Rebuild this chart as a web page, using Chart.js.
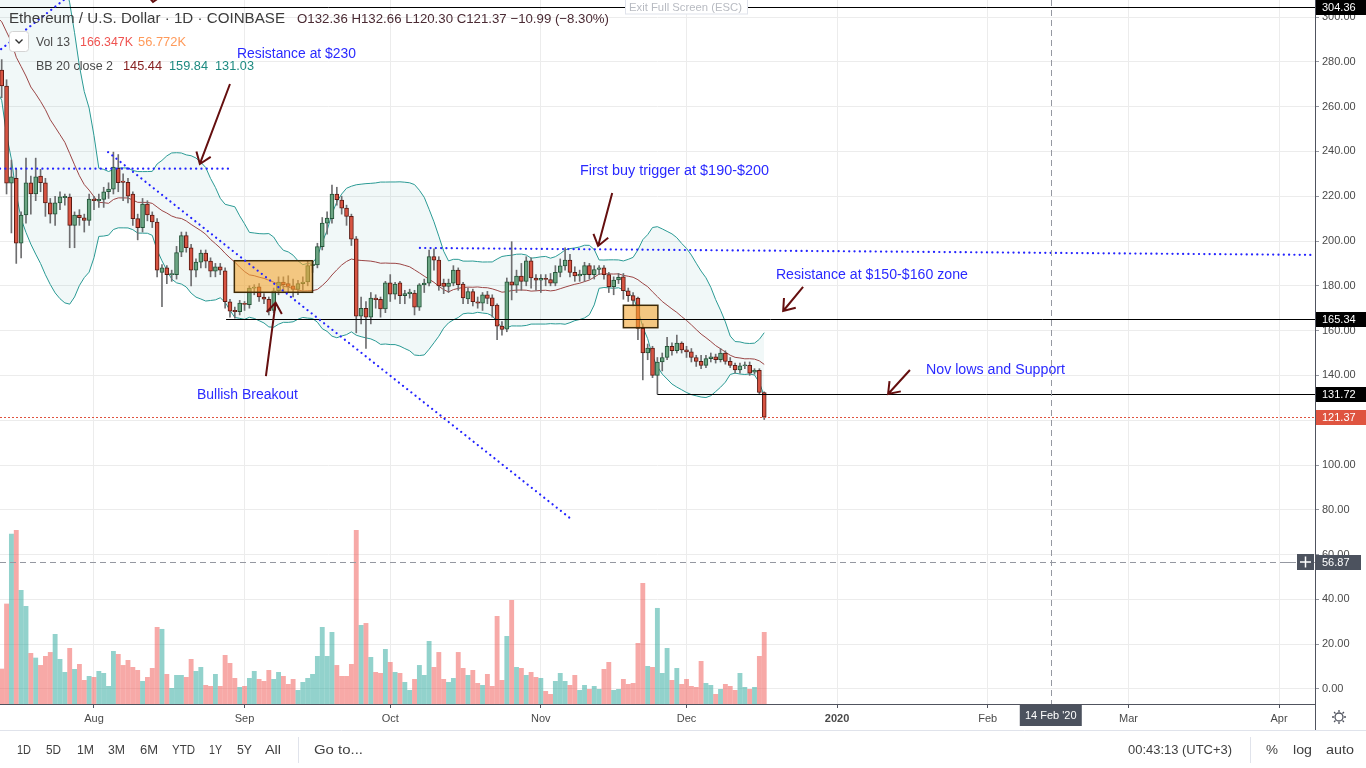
<!DOCTYPE html>
<html>
<head>
<meta charset="utf-8">
<title>Ethereum / U.S. Dollar 1D</title>
<script src="https://cdn.jsdelivr.net/npm/chart.js@4.4.1/dist/chart.umd.min.js"></script>
<style>
  html, body { margin: 0; padding: 0; background: #fff; }
  canvas { display: block; }
</style>
</head>
<body>
<canvas id="chart" width="1366" height="768"></canvas>
<script>
// x values are day numbers counted from 2019-07-01 (day 0)
const firstDay = 12; // 2019-07-13

// daily candles, 2019-07-13 .. 2019-12-17
const opens = [
  276.3, 269.2, 225.8, 228.0, 199.0, 211.6, 226.0, 221.0, 229.0, 226.0,
  217.0, 212.0, 217.0, 219.4, 219.6, 207.0, 211.6, 210.4, 209.2, 218.7,
  218.0, 218.6, 222.0, 223.2, 232.5, 226.8, 226.2, 221.0, 210.0, 206.0,
  216.5, 211.6, 208.5, 186.0, 188.0, 185.0, 185.0, 195.0, 202.4, 197.0,
  187.0, 190.6, 194.6, 191.0, 186.5, 188.5, 186.7, 172.9, 169.0, 168.5,
  172.0, 171.6, 179.0, 179.5, 175.0, 174.0, 169.0, 177.8, 181.7, 181.0,
  180.0, 178.4, 181.0, 181.7, 189.0, 189.3, 197.5, 208.0, 210.0, 221.0,
  218.3, 214.7, 211.0, 201.0, 166.5, 170.0, 166.0, 174.5, 174.0, 169.7,
  181.3, 176.3, 181.3, 175.6, 176.5, 176.8, 170.5, 180.4, 181.2, 193.0,
  191.5, 181.2, 179.7, 181.2, 187.0, 180.8, 174.1, 177.4, 172.9, 172.3,
  176.0, 174.6, 171.4, 162.0, 160.6, 181.8, 180.3, 184.4, 182.0, 191.2,
  183.5, 182.5, 183.3, 182.8, 181.2, 186.0, 188.9, 191.5, 186.0, 184.4,
  185.0, 189.0, 185.0, 187.3, 188.0, 185.0, 179.6, 182.6, 184.0, 177.8,
  175.6, 174.5, 161.0, 150.0, 152.2, 140.0, 146.0, 148.0, 153.0, 151.0,
  154.4, 151.4, 150.5, 148.0, 146.3, 144.5, 147.5, 148.3, 147.0, 150.0,
  146.3, 144.5, 142.5, 144.3, 144.5, 141.5, 142.3, 132.36
];
const highs = [
  281.0, 272.0, 236.2, 232.0, 213.0, 237.0, 229.0, 237.0, 232.0, 228.0,
  219.0, 220.0, 222.0, 221.0, 221.0, 213.0, 214.0, 212.0, 221.0, 220.0,
  221.0, 224.0, 226.0, 239.7, 238.6, 230.0, 228.0, 222.0, 212.0, 219.0,
  218.0, 213.0, 210.0, 189.5, 189.0, 187.0, 197.6, 204.0, 204.0, 198.5,
  192.0, 196.0, 196.0, 192.5, 190.0, 190.0, 188.0, 174.0, 170.5, 173.5,
  173.0, 180.0, 180.5, 181.0, 176.5, 175.0, 179.0, 184.0, 184.0, 184.5,
  183.0, 182.5, 184.0, 191.0, 191.0, 199.0, 210.5, 213.0, 225.0, 224.0,
  220.0, 216.0, 212.0, 202.0, 175.0, 173.0, 177.0, 176.0, 175.0, 182.0,
  185.0, 181.5, 182.0, 178.0, 178.5, 178.0, 181.0, 183.0, 196.0, 196.5,
  193.0, 183.0, 183.0, 189.0, 188.0, 181.5, 179.0, 178.5, 175.0, 177.0,
  177.5, 176.0, 172.0, 164.0, 183.5, 199.7, 187.0, 190.0, 193.0, 192.5,
  185.0, 185.0, 185.0, 185.5, 189.0, 192.0, 197.0, 194.0, 188.5, 187.0,
  190.5, 190.0, 189.0, 189.0, 189.0, 186.0, 184.0, 185.5, 185.5, 179.0,
  177.0, 175.0, 163.0, 154.0, 153.0, 148.0, 150.0, 157.0, 154.5, 158.0,
  155.0, 153.0, 152.0, 149.0, 149.0, 149.0, 150.0, 149.5, 152.0, 151.0,
  148.0, 145.5, 145.5, 146.0, 146.0, 143.0, 143.0, 132.66
];
const lows = [
  264.0, 221.0, 203.6, 190.0, 192.4, 208.0, 212.0, 218.0, 222.0, 211.0,
  208.0, 207.0, 214.0, 216.0, 197.0, 197.0, 207.0, 204.0, 207.0, 214.0,
  215.0, 215.0, 219.0, 221.0, 222.0, 218.0, 217.0, 207.0, 200.5, 204.0,
  209.0, 206.0, 184.0, 170.7, 181.0, 182.0, 183.0, 193.0, 195.0, 180.0,
  184.0, 188.0, 188.0, 184.0, 184.0, 185.0, 170.0, 166.0, 165.5, 167.0,
  169.0, 170.0, 176.0, 173.0, 172.0, 167.0, 168.0, 176.0, 177.0, 177.0,
  175.0, 176.0, 178.0, 180.0, 186.0, 188.0, 196.0, 203.0, 208.0, 216.0,
  212.0, 207.0, 198.0, 159.0, 163.0, 152.0, 163.0, 170.0, 166.0, 168.0,
  173.0, 174.0, 172.0, 172.0, 174.5, 167.0, 169.0, 177.0, 180.0, 187.0,
  178.0, 176.5, 177.0, 180.0, 178.0, 172.0, 172.0, 171.0, 170.0, 169.0,
  172.0, 166.0, 156.0, 158.0, 159.5, 173.7, 177.0, 178.0, 180.0, 179.0,
  178.0, 177.0, 180.0, 180.0, 180.0, 184.0, 187.0, 184.0, 182.0, 182.0,
  182.0, 183.0, 183.0, 185.0, 183.0, 177.0, 176.0, 181.0, 174.0, 173.0,
  171.0, 156.0, 138.0, 147.0, 139.0, 131.7, 142.0, 147.0, 149.0, 150.0,
  150.0, 148.0, 146.0, 144.0, 143.0, 143.5, 146.0, 145.5, 146.0, 145.0,
  143.5, 141.0, 141.0, 143.0, 140.0, 140.5, 131.5, 120.30
];
const closes = [
  269.2, 225.8, 228.7, 199.0, 211.6, 226.0, 221.0, 228.6, 226.0, 217.0,
  212.0, 217.0, 219.7, 219.9, 207.0, 211.6, 210.4, 209.2, 218.7, 218.0,
  218.6, 222.0, 223.2, 233.0, 226.0, 226.2, 220.0, 210.0, 206.0, 216.5,
  211.6, 208.5, 187.0, 188.0, 185.0, 185.3, 194.8, 202.4, 197.0, 187.0,
  190.6, 194.6, 191.0, 186.5, 188.5, 187.0, 172.9, 168.7, 168.5, 172.3,
  171.7, 179.0, 179.4, 175.0, 174.0, 168.8, 177.8, 181.7, 180.5, 179.7,
  178.4, 181.0, 181.7, 189.0, 189.7, 197.5, 208.0, 210.2, 221.0, 218.5,
  214.7, 211.0, 200.8, 166.5, 170.0, 166.0, 174.5, 173.8, 169.7, 181.3,
  176.3, 180.8, 175.6, 176.5, 177.2, 170.5, 180.4, 181.2, 193.0, 191.5,
  180.0, 179.7, 181.2, 187.0, 180.5, 174.6, 177.4, 172.9, 172.2, 176.0,
  174.4, 171.0, 162.0, 160.5, 181.8, 180.3, 184.4, 182.0, 191.2, 183.5,
  182.5, 183.3, 182.8, 181.2, 186.0, 188.9, 191.5, 186.0, 184.4, 185.2,
  189.0, 185.0, 187.3, 188.0, 185.0, 179.6, 182.6, 183.8, 177.8, 175.6,
  173.5, 161.0, 150.0, 152.2, 140.0, 146.0, 148.0, 153.0, 151.0, 154.4,
  151.4, 150.5, 148.0, 146.3, 144.5, 147.5, 148.3, 147.0, 150.0, 146.3,
  144.5, 142.5, 144.3, 144.6, 141.0, 142.3, 132.36, 121.37
];
// volume in thousands of ETH
const volumes = [
  81.6, 231.8, 393.5, 402.0, 263.3, 226.4, 117.8, 107.0, 90.0, 110.9,
  120.0, 161.7, 104.0, 73.9, 129.4, 80.9, 92.4, 55.4, 64.7, 62.4,
  76.2, 71.6, 41.6, 122.4, 115.5, 90.0, 101.6, 85.5, 78.5, 53.1,
  62.4, 83.2, 177.9, 173.3, 69.3, 37.0, 67.0, 67.0, 62.4, 104.0,
  76.2, 85.5, 43.9, 41.6, 69.3, 41.6, 113.2, 94.7, 60.0, 39.3,
  41.6, 60.0, 76.2, 57.8, 53.1, 78.5, 57.8, 73.9, 64.7, 46.2,
  57.8, 32.3, 50.8, 60.0, 69.3, 110.9, 177.9, 110.9, 166.3, 90.0,
  64.7, 64.7, 92.4, 402.0, 182.5, 187.0, 108.6, 73.9, 71.6, 127.0,
  97.0, 73.9, 71.6, 50.8, 32.3, 57.8, 90.0, 67.0, 145.5, 85.5,
  120.0, 57.8, 50.8, 60.0, 120.0, 83.2, 67.0, 78.5, 48.5, 43.9,
  69.3, 41.6, 203.3, 55.4, 157.0, 240.2, 85.5, 83.2, 67.0, 73.9,
  62.4, 60.0, 30.0, 23.1, 53.1, 71.6, 53.1, 43.9, 67.0, 32.3,
  43.9, 34.7, 41.6, 34.7, 80.9, 97.0, 32.3, 34.7, 57.8, 46.2,
  48.5, 140.9, 279.5, 87.8, 85.5, 221.8, 71.6, 129.4, 55.4, 83.2,
  46.2, 57.8, 41.6, 39.3, 99.3, 48.5, 43.9, 23.1, 34.7, 46.2,
  41.6, 32.3, 71.6, 39.3, 34.7, 39.3, 110.9, 166.3
];
// closes 2019-06-23 .. 2019-07-12, only used to warm up the Bollinger bands
const warmupCloses = [309, 317, 318, 336, 294, 311, 319, 290, 293, 291,
                      302, 283, 287, 288, 307, 313, 308, 288, 268, 276];

const priceTicks = [0, 20, 40, 60, 80, 100, 120, 140, 160, 180, 200, 220, 240, 260, 280, 300];
const monthDays = [31, 62, 92, 123, 153, 184, 215, 244, 275];
const monthLabels = ['Aug', 'Sep', 'Oct', 'Nov', 'Dec', '2020', 'Feb', 'Mar', 'Apr'];

// ---- drawings (day, price) ----
const dottedLines = [
  [5, 274, 30, 316.5],
  [11.65, 232.3, 59.2, 232.3],
  [33.9, 239.7, 129.0, 76.3],
  [98.1, 196.9, 281.8, 193.8]
];
const solidLines = [
  [11.65, 304.36, 282.4, 304.36],
  [58.2, 165.34, 282.4, 165.34],
  [147.0, 131.72, 282.4, 131.72]
];
const boxes = [
  [59.9, 191.2, 76.0, 177.1],
  [140.0, 171.3, 147.1, 161.3]
];
const arrows = [
  [59.0, 270.1, 52.8, 234.4],
  [66.4, 139.7, 68.4, 172.5],
  [137.7, 221.4, 134.8, 197.8],
  [177.0, 179.5, 172.9, 168.75],
  [199.0, 142.4, 194.5, 131.7]
];
const notes = [
  ['Resistance at $230', 60.45, 281.7, 119],
  ['First buy trigger at $190-$200', 131.07, 229.5, 189],
  ['Resistance at $150-$160 zone', 171.4, 183.0, 192],
  ['Nov lows and Support', 202.3, 140.6, 139],
  ['Bullish Breakout', 52.2, 129.5, 101]
];
const crossDay = 228;   // 14 Feb '20
const crossPrice = 56.87;
const lastPrice = 121.37;

const FONT = '"Liberation Sans", Arial, sans-serif';
const UP = '#6ba583', DOWN = '#d75442';
const UP_BORDER = '#225437', DOWN_BORDER = '#5b1a13';

// build datasets
const days = closes.map((c, i) => firstDay + i);
const isUp = closes.map((c, i) => c >= opens[i]);

const bodyData = days.map((d, i) => ({ x: d, y: [opens[i], closes[i]] }));
const wickData = days.map((d, i) => ({ x: d, y: [lows[i], highs[i]] }));
const volData = days.map((d, i) => ({ x: d, y: volumes[i] }));

// Bollinger bands 20, 2 on close
const allCloses = warmupCloses.concat(closes);
const bbMid = [], bbUp = [], bbLow = [];
for (let i = 19; i < allCloses.length; i++) {
  const win = allCloses.slice(i - 19, i + 1);
  const m = win.reduce((a, b) => a + b, 0) / 20;
  const sd = Math.sqrt(win.reduce((a, b) => a + (b - m) * (b - m), 0) / 20);
  const d = firstDay - warmupCloses.length + i;
  bbMid.push({ x: d, y: m });
  bbUp.push({ x: d, y: m + 2 * sd });
  bbLow.push({ x: d, y: m - 2 * sd });
}

// text squeezed/stretched to a measured width
function fitText(ctx, str, x, y, w, font, color) {
  ctx.font = font;
  ctx.fillStyle = color;
  const m = ctx.measureText(str).width;
  ctx.save();
  ctx.translate(x, y);
  ctx.scale(w / m, 1);
  ctx.fillText(str, 0, 0);
  ctx.restore();
}

function drawArrow(ctx, x1, y1, x2, y2) {
  const a = Math.atan2(y2 - y1, x2 - x1), len = 13, spread = Math.PI / 5;
  ctx.beginPath();
  ctx.moveTo(x1, y1);
  ctx.lineTo(x2, y2);
  ctx.moveTo(x2 - len * Math.cos(a - spread), y2 - len * Math.sin(a - spread));
  ctx.lineTo(x2, y2);
  ctx.lineTo(x2 - len * Math.cos(a + spread), y2 - len * Math.sin(a + spread));
  ctx.stroke();
}

function priceTag(ctx, y, text, bg, right) {
  ctx.fillStyle = bg;
  ctx.fillRect(1316, Math.round(y) - 7, right - 1316, 15);
  ctx.fillStyle = '#fff';
  ctx.font = '11px ' + FONT;
  ctx.textBaseline = 'middle';
  ctx.fillText(text, 1322, Math.round(y) + 0.5);
  ctx.textBaseline = 'alphabetic';
}

const overlay = {
  id: 'overlay',
  afterDatasetsDraw(chart) {
    const { ctx, chartArea: a, scales: { x, y } } = chart;
    const px = d => x.getPixelForValue(d);
    const py = p => y.getPixelForValue(p);
    ctx.save();
    ctx.beginPath();
    ctx.rect(a.left, a.top, a.right - a.left, a.bottom - a.top);
    ctx.clip();

    // orange boxes
    boxes.forEach(([d1, p1, d2, p2]) => {
      ctx.fillStyle = 'rgba(245, 166, 50, 0.6)';
      ctx.fillRect(px(d1), py(p1), px(d2) - px(d1), py(p2) - py(p1));
      ctx.strokeStyle = '#3d2a08';
      ctx.lineWidth = 1.5;
      ctx.strokeRect(px(d1), py(p1), px(d2) - px(d1), py(p2) - py(p1));
    });

    // horizontal lines
    ctx.strokeStyle = '#000';
    ctx.lineWidth = 1;
    solidLines.forEach(([d1, p1, d2, p2]) => {
      ctx.beginPath();
      ctx.moveTo(px(d1), Math.round(py(p1)) + 0.5);
      ctx.lineTo(px(d2), Math.round(py(p2)) + 0.5);
      ctx.stroke();
    });

    // last price line
    ctx.strokeStyle = '#e0533f';
    ctx.setLineDash([2, 2]);
    ctx.beginPath();
    ctx.moveTo(a.left, Math.round(py(lastPrice)) + 0.5);
    ctx.lineTo(a.right, Math.round(py(lastPrice)) + 0.5);
    ctx.stroke();

    // blue dotted trend lines
    ctx.strokeStyle = '#2424ff';
    ctx.lineWidth = 2.2;
    ctx.lineCap = 'round';
    ctx.setLineDash([0.1, 5.2]);
    dottedLines.forEach(([d1, p1, d2, p2]) => {
      ctx.beginPath();
      ctx.moveTo(px(d1), py(p1));
      ctx.lineTo(px(d2), py(p2));
      ctx.stroke();
    });
    ctx.setLineDash([]);
    ctx.lineCap = 'butt';

    // arrows
    ctx.strokeStyle = '#650f0f';
    ctx.lineWidth = 2;
    arrows.forEach(([d1, p1, d2, p2]) => drawArrow(ctx, px(d1), py(p1), px(d2), py(p2)));
    // head of an arrow cut off by the top edge
    ctx.beginPath();
    ctx.moveTo(148, -4); ctx.lineTo(153, 2); ctx.lineTo(160, -3);
    ctx.stroke();

    // notes
    notes.forEach(([t, d, p, w]) => fitText(ctx, t, px(d), py(p), w, '14px ' + FONT, '#2a2aff'));

    // crosshair
    ctx.strokeStyle = '#9598a1';
    ctx.lineWidth = 1;
    ctx.setLineDash([6, 4]);
    ctx.beginPath();
    ctx.moveTo(a.left, Math.round(py(crossPrice)) + 0.5);
    ctx.lineTo(a.right, Math.round(py(crossPrice)) + 0.5);
    ctx.moveTo(Math.round(px(crossDay)) + 0.5, a.top);
    ctx.lineTo(Math.round(px(crossDay)) + 0.5, a.bottom);
    ctx.stroke();
    ctx.setLineDash([]);
    ctx.restore();
  },
  afterDraw(chart) {
    const { ctx, scales: { x, y } } = chart;
    ctx.save();

    // legend
    fitText(ctx, 'Ethereum / U.S. Dollar · 1D · COINBASE', 9, 23, 276, '15px ' + FONT, '#3c3c3c');
    fitText(ctx, 'O132.36 H132.66 L120.30 C121.37 −10.99 (−8.30%)', 297, 23, 312, '13px ' + FONT, '#4a2a33');
    // collapse button
    ctx.strokeStyle = '#d4d4d4';
    ctx.lineWidth = 1;
    ctx.fillStyle = '#fff';
    ctx.beginPath();
    ctx.roundRect(9.5, 31.5, 19, 20, 3);
    ctx.fill();
    ctx.stroke();
    ctx.strokeStyle = '#333';
    ctx.lineWidth = 1.4;
    ctx.beginPath();
    ctx.moveTo(15.5, 39.5); ctx.lineTo(19, 43); ctx.lineTo(22.5, 39.5);
    ctx.stroke();
    fitText(ctx, 'Vol 13', 36, 46, 34, '13px ' + FONT, '#4a4a4a');
    fitText(ctx, '166.347K', 80, 46, 53, '13px ' + FONT, '#ef5350');
    fitText(ctx, '56.772K', 138, 46, 48, '13px ' + FONT, '#ff9a5a');
    fitText(ctx, 'BB 20 close 2', 36, 70, 77, '13px ' + FONT, '#4a4a4a');
    fitText(ctx, '145.44', 123, 70, 39, '13px ' + FONT, '#872323');
    fitText(ctx, '159.84', 169, 70, 39, '13px ' + FONT, '#1d8a80');
    fitText(ctx, '131.03', 215, 70, 39, '13px ' + FONT, '#1d8a80');

    // exit full screen hint
    ctx.fillStyle = '#fff';
    ctx.fillRect(625, 0, 123, 14);
    ctx.strokeStyle = '#e0e3eb';
    ctx.lineWidth = 1;
    ctx.strokeRect(625.5, -1, 122, 15);
    fitText(ctx, 'Exit Full Screen (ESC)', 629, 11, 113, '11px ' + FONT, '#b8bbc2');

    // price tags on the axis
    priceTag(ctx, y.getPixelForValue(304.36), '304.36', '#000', 1366);
    priceTag(ctx, y.getPixelForValue(165.34), '165.34', '#000', 1366);
    priceTag(ctx, y.getPixelForValue(131.72), '131.72', '#000', 1366);
    priceTag(ctx, y.getPixelForValue(lastPrice), '121.37', '#df5440', 1366);
    const cy = y.getPixelForValue(crossPrice);
    priceTag(ctx, cy, crossPrice.toFixed(2), '#4c525e', 1361);
    ctx.fillStyle = '#4c525e';
    ctx.fillRect(1297, Math.round(cy) - 8, 17, 16);
    ctx.strokeStyle = '#fff';
    ctx.lineWidth = 1.5;
    ctx.beginPath();
    ctx.moveTo(1300, Math.round(cy)); ctx.lineTo(1311, Math.round(cy));
    ctx.moveTo(1305.5, Math.round(cy) - 5.5); ctx.lineTo(1305.5, Math.round(cy) + 5.5);
    ctx.stroke();
    ctx.strokeStyle = '#9598a1';
    ctx.lineWidth = 1;
    ctx.beginPath();
    ctx.moveTo(1285, Math.round(cy) + 0.5); ctx.lineTo(1291, Math.round(cy) + 0.5);
    ctx.stroke();

    // date tag on the time axis
    const cx = x.getPixelForValue(crossDay);
    ctx.fillStyle = '#4c525e';
    ctx.fillRect(cx - 31, 705, 62, 21);
    ctx.fillStyle = '#fff';
    ctx.font = '11px ' + FONT;
    ctx.textAlign = 'center';
    ctx.fillText("14 Feb '20", cx, 719);
    ctx.textAlign = 'left';

    // axis frame continued through the time axis row
    ctx.strokeStyle = '#50535e';
    ctx.beginPath();
    ctx.moveTo(1315.5, 0); ctx.lineTo(1315.5, 730);
    ctx.stroke();

    // settings gear
    ctx.strokeStyle = '#50535e';
    ctx.lineWidth = 1.3;
    ctx.beginPath();
    ctx.arc(1339, 717, 4, 0, Math.PI * 2);
    for (let k = 0; k < 8; k++) {
      const t = k * Math.PI / 4;
      ctx.moveTo(1339 + 5 * Math.cos(t), 717 + 5 * Math.sin(t));
      ctx.lineTo(1339 + 7 * Math.cos(t), 717 + 7 * Math.sin(t));
    }
    ctx.stroke();

    // bottom toolbar
    ctx.strokeStyle = '#e0e3eb';
    ctx.lineWidth = 1;
    ctx.beginPath();
    ctx.moveTo(0, 730.5); ctx.lineTo(1366, 730.5);
    ctx.moveTo(298.5, 737); ctx.lineTo(298.5, 763);
    ctx.moveTo(1250.5, 737); ctx.lineTo(1250.5, 763);
    ctx.stroke();
    const toolbar = [
      ['1D', 17, 14], ['5D', 46, 15], ['1M', 77, 17], ['3M', 108, 17], ['6M', 140, 18],
      ['YTD', 172, 23], ['1Y', 209, 13], ['5Y', 237, 15], ['All', 265, 16], ['Go to...', 314, 49],
      ['00:43:13 (UTC+3)', 1128, 104], ['%', 1266, 12], ['log', 1293, 19], ['auto', 1326, 28]
    ];
    toolbar.forEach(([t, tx, w]) => fitText(ctx, t, tx, 754, w, '13px ' + FONT, '#3f3f3f'));
    ctx.restore();
  }
};

new Chart(document.getElementById('chart'), {
  type: 'bar',
  data: {
    datasets: [
      {
        label: 'Volume', data: volData, yAxisID: 'yv', order: 6, grouped: false,
        backgroundColor: isUp.map(u => u ? 'rgba(38,166,154,0.5)' : 'rgba(239,83,80,0.5)'),
        borderWidth: 0, barPercentage: 1, categoryPercentage: 1, inflateAmount: 0
      },
      {
        type: 'line', label: 'BB upper', data: bbUp, order: 5,
        borderColor: '#2a9a94', borderWidth: 1, pointRadius: 0,
        fill: '+1', backgroundColor: 'rgba(25,135,135,0.06)'
      },
      {
        type: 'line', label: 'BB lower', data: bbLow, order: 5,
        borderColor: '#2a9a94', borderWidth: 1, pointRadius: 0, fill: false
      },
      {
        type: 'line', label: 'BB basis', data: bbMid, order: 4,
        borderColor: '#9b4545', borderWidth: 1, pointRadius: 0, fill: false
      },
      {
        label: 'Wicks', data: wickData, order: 2, grouped: false,
        backgroundColor: '#6e6e70', barThickness: 1, borderWidth: 0
      },
      {
        label: 'Bodies', data: bodyData, order: 1, grouped: false,
        backgroundColor: isUp.map(u => u ? UP : DOWN),
        borderColor: isUp.map(u => u ? UP_BORDER : DOWN_BORDER),
        borderWidth: 1, borderSkipped: false, barThickness: 4, minBarLength: 1
      }
    ]
  },
  options: {
    responsive: false,
    animation: false,
    devicePixelRatio: 1,
    layout: { padding: 0 },
    plugins: { legend: { display: false }, tooltip: { enabled: false } },
    scales: {
      x: {
        type: 'linear', min: 11.65, max: 282.4, offset: false,
        afterBuildTicks: s => { s.ticks = monthDays.map(v => ({ value: v })); },
        afterFit: s => { s.height = 64; s.paddingLeft = 0; s.paddingRight = 0; },
        ticks: {
          autoSkip: false, maxRotation: 0, padding: 4, color: '#4a4a4a',
          font: c => ({ family: FONT, size: 11, weight: c.index === 5 ? 'bold' : 'normal' }),
          callback: (v, i) => monthLabels[i]
        },
        grid: { color: '#ececec', tickColor: '#50535e', tickLength: 4, offset: false },
        border: { color: '#50535e' }
      },
      y: {
        position: 'right', min: -6.7, max: 307.6,
        afterBuildTicks: s => { s.ticks = priceTicks.map(v => ({ value: v })); },
        afterFit: s => { s.width = 51; s.paddingTop = 0; s.paddingBottom = 0; },
        ticks: { padding: 3, color: '#4a4a4a', font: { family: FONT, size: 11 }, callback: v => v.toFixed(2) },
        grid: { color: '#ececec', tickColor: '#9598a1', tickLength: 4 },
        border: { color: '#50535e' }
      },
      yv: { display: false, min: 0, max: 1626 }
    }
  },
  plugins: [overlay]
});
</script>
</body>
</html>
